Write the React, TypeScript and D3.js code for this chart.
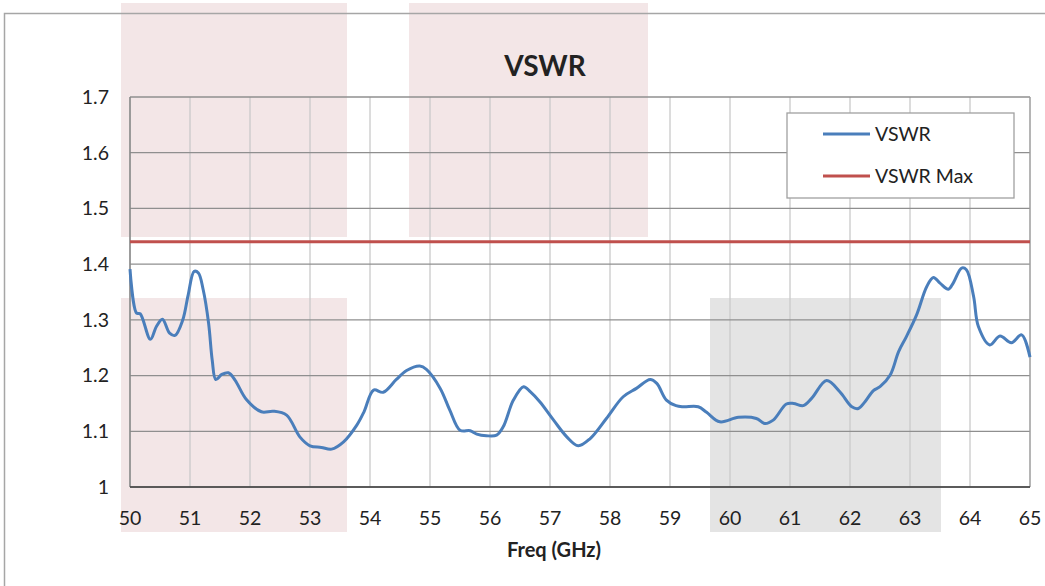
import React from "react";
import * as d3 from "d3";

const freq: number[] = [
  50.0, 50.11, 50.17, 50.34, 50.44, 50.54, 50.66, 50.75, 50.88, 50.97, 51.07, 51.14, 51.22, 51.31, 51.37,
  51.43, 51.53, 51.64, 51.75, 51.94, 52.19, 52.39, 52.61, 52.83, 53.0, 53.19, 53.36, 53.56, 53.78, 53.9,
  54.06, 54.22, 54.44, 54.61, 54.83, 54.94, 55.17, 55.33, 55.5, 55.67, 55.78, 55.94, 56.11, 56.22, 56.39,
  56.56, 56.67, 56.83, 57.06, 57.28, 57.47, 57.67, 57.94, 58.22, 58.44, 58.67, 58.78, 58.94, 59.1, 59.22,
  59.47, 59.61, 59.83, 60.14, 60.44, 60.58, 60.72, 60.94, 61.06, 61.22, 61.36, 61.61, 61.83, 62.03, 62.14,
  62.25, 62.39, 62.5, 62.67, 62.81, 62.94, 63.11, 63.28, 63.39, 63.5, 63.64, 63.72, 63.86, 63.94, 64.06,
  64.14, 64.33, 64.5, 64.69, 64.86, 65.0,
];
const vswr: number[] = [
  1.391, 1.312, 1.311, 1.265, 1.288, 1.301, 1.276, 1.272, 1.300, 1.345, 1.387, 1.384, 1.354, 1.294, 1.228,
  1.193, 1.202, 1.205, 1.192, 1.157, 1.135, 1.136, 1.129, 1.090, 1.074, 1.071, 1.068, 1.081, 1.111, 1.135,
  1.174, 1.170, 1.193, 1.209, 1.217, 1.211, 1.177, 1.138, 1.102, 1.101, 1.095, 1.092, 1.093, 1.108, 1.156,
  1.180, 1.171, 1.153, 1.120, 1.090, 1.074, 1.087, 1.123, 1.162, 1.177, 1.193, 1.186, 1.156, 1.146, 1.144,
  1.144, 1.134, 1.117, 1.125, 1.123, 1.114, 1.120, 1.149, 1.150, 1.146, 1.159, 1.191, 1.171, 1.144, 1.141,
  1.153, 1.173, 1.180, 1.201, 1.243, 1.270, 1.309, 1.360, 1.376, 1.366, 1.355, 1.366, 1.393, 1.390, 1.342,
  1.288, 1.255, 1.271, 1.259, 1.273, 1.233,
];
const vswrMax = 1.44;
const xTicks: number[] = [50, 51, 52, 53, 54, 55, 56, 57, 58, 59, 60, 61, 62, 63, 64, 65];
const yTicks: number[] = [1, 1.1, 1.2, 1.3, 1.4, 1.5, 1.6, 1.7];
const seriesNames: string[] = ["VSWR", "VSWR Max"];

const FONT = "Lato, 'Open Sans', sans-serif";

export default function App() {
  const W = 1045, H = 586;
  const x = d3.scaleLinear().domain([50, 65]).range([130, 1030]);
  const y = d3.scaleLinear().domain([1, 1.7]).range([487, 97]);
  const line = d3
    .line<number>()
    .x((_, i) => x(freq[i]))
    .y((d) => y(d))
    .curve(d3.curveCatmullRom.alpha(0.5));
  const blue = "#4a7ebb";
  const red = "#c0504d";
  const pink = "#f3e6e7";
  const gray = "#e4e4e4";
  return (
    <svg width={W} height={H} style={{ position: "absolute", left: 0, top: 0, background: "#fff" }}>
      {/* highlight overlays */}
      <rect x={121} y={3} width={226} height={234} fill={pink} />
      <rect x={409} y={3} width={239} height={234} fill={pink} />
      <rect x={121} y={298} width={226} height={234} fill={pink} />
      <rect x={710} y={298} width={231} height={234} fill={gray} />
      {/* chart border */}
      <path d={`M4.5,${H} V13.5 H${W}`} fill="none" stroke="#a6a6a6" strokeWidth={1.5} />
      {/* vertical grid */}
      {xTicks.map((t) => (
        <line key={"vx" + t} x1={x(t)} x2={x(t)} y1={97} y2={487} stroke="#c9c9c9" strokeWidth={1.3} />
      ))}
      {/* horizontal grid */}
      {yTicks.map((t) => (
        <line key={"hy" + t} x1={130} x2={1030} y1={y(t)} y2={y(t)} stroke="#8f8f8f" strokeWidth={1.3} />
      ))}
      <line x1={1030} x2={1030} y1={97} y2={487} stroke="#a0a0a0" strokeWidth={1.3} />
      {/* axes */}
      <line x1={130} x2={130} y1={97} y2={487} stroke="#878787" strokeWidth={1.5} />
      <line x1={130} x2={1030} y1={487} y2={487} stroke="#404040" strokeWidth={1.5} />
      {/* y tick labels */}
      {yTicks.map((t) => (
        <text key={"yl" + t} x={109} y={y(t)} dy="0.35em" textAnchor="end" fontFamily={FONT} fontSize={19.5} fill="#222">
          {t === 1 ? "1" : t.toFixed(1)}
        </text>
      ))}
      {/* x tick labels */}
      {xTicks.map((t) => (
        <text key={"xl" + t} x={x(t)} y={518} dy="0.35em" textAnchor="middle" fontFamily={FONT} fontSize={19.5} fill="#222">
          {t}
        </text>
      ))}
      {/* series */}
      <line x1={x(50)} x2={x(65)} y1={y(vswrMax)} y2={y(vswrMax)} stroke={red} strokeWidth={3} />
      <path d={line(vswr) || ""} fill="none" stroke={blue} strokeWidth={3} strokeLinejoin="round" />
      {/* title */}
      <text x={545} y={66} dy="0.35em" textAnchor="middle" fontFamily={FONT} fontWeight="bold" fontSize={28} fill="#222">
        VSWR
      </text>
      <text x={554} y={550} dy="0.35em" textAnchor="middle" fontFamily={FONT} fontWeight="bold" fontSize={20} fill="#222">
        Freq (GHz)
      </text>
      {/* legend */}
      <rect x={787} y={113} width={227} height={85} fill="#fff" stroke="#a0a0a0" strokeWidth={1.3} />
      <line x1={823} x2={870} y1={134} y2={134} stroke={blue} strokeWidth={3} />
      <text x={875} y={134} dy="0.35em" fontFamily={FONT} fontSize={19.5} fill="#222">{seriesNames[0]}</text>
      <line x1={823} x2={870} y1={176} y2={176} stroke={red} strokeWidth={3} />
      <text x={875} y={176} dy="0.35em" fontFamily={FONT} fontSize={19.5} fill="#222">{seriesNames[1]}</text>
    </svg>
  );
}
